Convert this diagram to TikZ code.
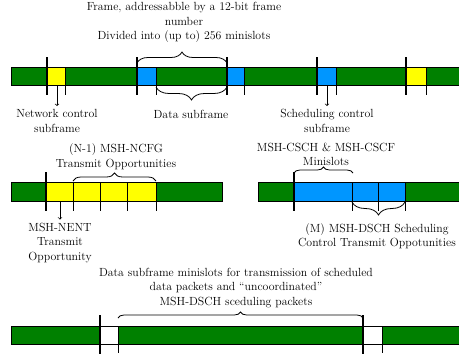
\documentclass[tikz,border=0pt]{standalone}
\usepackage{amsmath}
\usetikzlibrary{decorations.pathreplacing}

\definecolor{slotgreen}{RGB}{0,128,0}
\definecolor{slotblue}{RGB}{0,150,255}
\definecolor{slotyellow}{RGB}{255,255,0}

\begin{document}
\begin{tikzpicture}[x=1pt, y=-1pt, font=\fontsize{11.8}{14.5}\selectfont,
        bar/.style={draw, line width=0.8pt, fill=slotgreen},
        slot/.style={draw, line width=0.8pt},
        bound/.style={line width=2.2pt},
        tick/.style={line width=0.8pt},
        brc/.style={decorate, line width=0.8pt, decoration={brace, amplitude=#1}},
        lbl/.style={align=center},
        pointer/.style={->, line width=0.7pt}]
        \useasboundingbox (0,0) rectangle (459,359);

        % frame row
        \draw[bar] (11,67) rectangle (461,85);
        \draw[slot, fill=slotyellow] (47,67) rectangle (65,85);
        \draw[slot, fill=slotblue] (137,67) rectangle (156,85);
        \draw[slot, fill=slotblue] (227,67) rectangle (244,85);
        \draw[slot, fill=slotblue] (317,67) rectangle (336,85);
        \draw[slot, fill=slotyellow] (406,67) rectangle (426,85);
        \foreach \x in {47,137,227,317,406}
            \draw[bound] (\x,57) -- (\x,95);
        \foreach \x in {65,156,244,336,426}
            \draw[tick] (\x,67) -- (\x,95);
        \draw[brc=11] (137,63) -- (227,63);
        \draw[brc=13] (227,87) -- (156,87);

        \node[lbl] (frm) at (184,22.5) {Frame, addressabble by a 12-bit frame\\number\\Divided into (up to) 256 minislots};
        \node[lbl] (ncs) at (57,121) {Network control\\subframe};
        \node[lbl] (dsf) at (191,114) {Data subframe};
        \node[lbl] (scs) at (327,121) {Scheduling control\\subframe};
        \coordinate (nc) at (57,85);
        \coordinate (sc) at (327,85);
        \draw[pointer] (nc) -- (ncs);
        \draw[pointer] (sc) -- (scs);

        % network control subframe
        \draw[bar] (11,182) rectangle (222,201);
        \draw[slot, fill=slotyellow] (46,182) rectangle (156,201);
        \draw[bound] (46,172) -- (46,211);
        \foreach \x in {73,100,127,156}
            \draw[tick] (\x,182) -- (\x,211);
        \draw[brc=8] (73,181) -- (156,181);
        \node[lbl] (ncfg) at (116,156.5) {(N-1) MSH-NCFG\\Transmit Opportunities};
        \node[lbl] (nent) at (60,243) {MSH-NENT\\Transmit\\Opportunity};
        \coordinate (ne) at (60,201);
        \draw[pointer] (ne) -- (nent);

        % scheduling control subframe
        \draw[bar] (258,182) rectangle (461,201);
        \draw[slot, fill=slotblue] (294,182) rectangle (405,201);
        \draw[bound] (294,172) -- (294,211);
        \foreach \x in {352,378,405}
            \draw[tick] (\x,182) -- (\x,211);
        \draw[brc=6] (294,173) -- (353,173);
        \draw[brc=13] (405,202) -- (352,202);
        \node[lbl] (cscf) at (326,154.5) {MSH-CSCH \& MSH-CSCF\\Minislots};
        \node[lbl] (dsch) at (377,236) {(M) MSH-DSCH Scheduling\\Control Transmit Oppotunities};

        % data subframe
        \draw[bar] (11,326) rectangle (461,344);
        \draw[slot, fill=white] (100,326) rectangle (118,344);
        \draw[slot, fill=white] (363,326) rectangle (382,344);
        \foreach \x in {100,363}
            \draw[bound] (\x,315) -- (\x,354);
        \foreach \x in {118,382}
            \draw[tick] (\x,326) -- (\x,353);
        \draw[brc=6] (118,318) -- (363,318);
        \node[lbl] (dmin) at (236,288) {Data subframe minislots for transmission of scheduled\\data packets and ``uncoordinated''\\MSH-DSCH sceduling packets};
    \end{tikzpicture}
\end{document}
